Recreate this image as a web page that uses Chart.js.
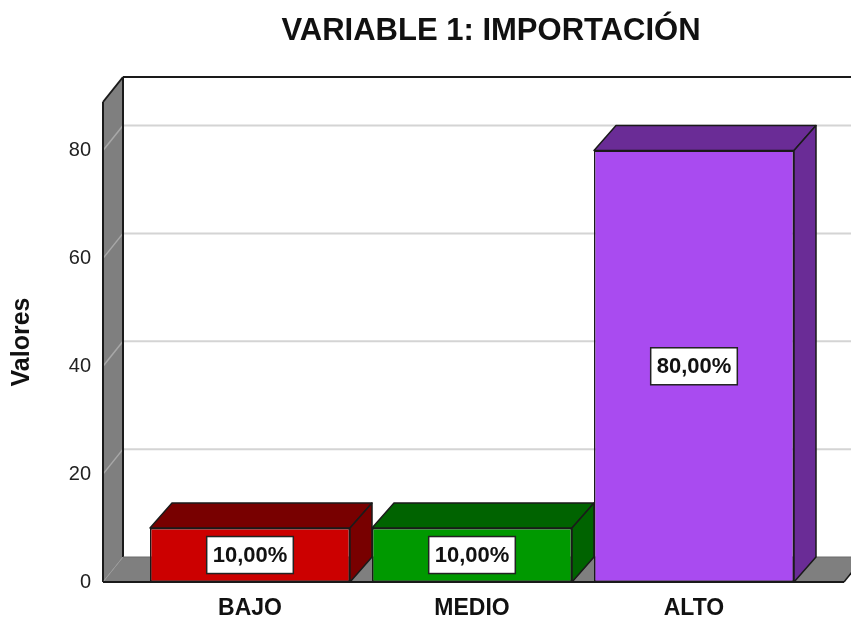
<!DOCTYPE html>
<html>
<head>
<meta charset="utf-8">
<script src="https://cdn.jsdelivr.net/npm/chart.js@4/dist/chart.umd.min.js"></script>
<style>
  html, body { margin: 0; padding: 0; background: #ffffff; }
  #wrap { width: 851px; height: 622px; }
</style>
</head>
<body>
<div id="wrap"><canvas id="chart" width="851" height="622"></canvas></div>
<script>
// Chart content
const chartTitle = 'VARIABLE 1: IMPORTACIÓN';
const axisTitle = 'Valores';
const categories = ['BAJO', 'MEDIO', 'ALTO'];
const values = [10, 10, 80];
const yTicks = [0, 20, 40, 60, 80];
const yMax = 89;

// Face colours for each bar
const frontColors = ['#cc0000', '#009900', '#a94bf0'];
const shadeColors = ['#780000', '#006300', '#6a2c96'];

const FONT = '"Liberation Sans", Arial, Helvetica, sans-serif';

// Depth of the 3D box and the bars
const WALL_DX = 20, WALL_DY = -25;
const BAR_DX = 22, BAR_DY = -25;
const FRONT_LEFT_EXTRA = 36;   // side wall sits left of the category band
const FRONT_RIGHT_EXTRA = 39;  // floor runs past the last category

function poly(ctx, pts, fill, stroke, lw) {
  ctx.beginPath();
  ctx.moveTo(pts[0][0], pts[0][1]);
  for (let i = 1; i < pts.length; i++) ctx.lineTo(pts[i][0], pts[i][1]);
  ctx.closePath();
  if (fill) { ctx.fillStyle = fill; ctx.fill(); }
  if (stroke) { ctx.strokeStyle = stroke; ctx.lineWidth = lw || 1.5; ctx.lineJoin = 'round'; ctx.stroke(); }
}

function line(ctx, x0, y0, x1, y1, color, lw) {
  ctx.beginPath();
  ctx.moveTo(x0, y0);
  ctx.lineTo(x1, y1);
  ctx.strokeStyle = color;
  ctx.lineWidth = lw;
  ctx.stroke();
}

const box3d = {
  id: 'box3d',
  beforeDatasetsDraw(chart) {
    const ctx = chart.ctx;
    const y = chart.scales.y;
    const area = chart.chartArea;
    const fl = area.left - FRONT_LEFT_EXTRA;
    const fr = area.right + FRONT_RIGHT_EXTRA;
    const yTop = y.getPixelForValue(yMax);
    const yBase = y.getPixelForValue(0);
    const bl = fl + WALL_DX;
    const br = fr + WALL_DX;
    ctx.save();

    // side wall
    poly(ctx, [[fl, yBase], [fl, yTop], [bl, yTop + WALL_DY], [bl, yBase + WALL_DY]], '#7f7f7f', null);
    // floor
    poly(ctx, [[fl, yBase], [bl, yBase + WALL_DY], [br, yBase + WALL_DY], [fr, yBase]], '#7f7f7f', null);

    // grid lines on the back wall and across the side wall
    yTicks.forEach(v => {
      if (v === 0) return;
      const py = y.getPixelForValue(v);
      line(ctx, bl, py + WALL_DY, br + 40, py + WALL_DY, '#d4d4d4', 2);
      line(ctx, fl, py, bl, py + WALL_DY, '#a8a8a8', 1.5);
    });

    // box outlines
    const edge = '#1a1a1a';
    line(ctx, bl, yTop + WALL_DY, br + 40, yTop + WALL_DY, edge, 2);
    line(ctx, bl, yTop + WALL_DY, bl, yBase + WALL_DY, edge, 2);
    line(ctx, fl, yTop, bl, yTop + WALL_DY, edge, 2);
    line(ctx, fl, yTop, fl, yBase, edge, 2);
    line(ctx, bl, yBase + WALL_DY, fl, yBase, '#9a9a9a', 1);
    line(ctx, fl, yBase, fr, yBase, edge, 2);
    line(ctx, fr, yBase, br, yBase + WALL_DY, edge, 1.5);
    line(ctx, bl, yBase + WALL_DY, br, yBase + WALL_DY, '#6a6a6a', 1);

    // top and side faces of each bar
    const meta = chart.getDatasetMeta(0);
    meta.data.forEach((bar, i) => {
      const p = bar.getProps(['x', 'y', 'base', 'width'], true);
      const x0 = p.x - p.width / 2, x1 = p.x + p.width / 2;
      const yt = p.y, yb = p.base;
      poly(ctx, [[x0, yt], [x0 + BAR_DX, yt + BAR_DY], [x1 + BAR_DX, yt + BAR_DY], [x1, yt]], shadeColors[i], edge, 1.5);
      poly(ctx, [[x1, yt], [x1 + BAR_DX, yt + BAR_DY], [x1 + BAR_DX, yb + BAR_DY], [x1, yb]], shadeColors[i], edge, 1.5);
    });
    ctx.restore();
  },
  afterDatasetsDraw(chart) {
    const ctx = chart.ctx;
    const meta = chart.getDatasetMeta(0);
    ctx.save();
    ctx.font = 'bold 22px ' + FONT;
    ctx.textAlign = 'center';
    ctx.textBaseline = 'middle';
    meta.data.forEach((bar, i) => {
      const p = bar.getProps(['x', 'y', 'base'], true);
      const text = values[i].toFixed(2).replace('.', ',') + '%';
      const cy = (p.y + p.base) / 2;
      const w = ctx.measureText(text).width + 12;
      const h = 37;
      ctx.fillStyle = '#ffffff';
      ctx.fillRect(p.x - w / 2, cy - h / 2, w, h);
      ctx.strokeStyle = '#222222';
      ctx.lineWidth = 1.5;
      ctx.strokeRect(p.x - w / 2, cy - h / 2, w, h);
      ctx.fillStyle = '#111111';
      ctx.fillText(text, p.x, cy + 1);
    });
    ctx.restore();
  },
  afterDraw(chart) {
    const ctx = chart.ctx;
    ctx.save();
    ctx.font = 'bold 31px ' + FONT;
    ctx.fillStyle = '#111111';
    ctx.textAlign = 'center';
    ctx.textBaseline = 'middle';
    ctx.fillText(chartTitle, 491, 31);
    ctx.restore();
  }
};

new Chart(document.getElementById('chart'), {
  type: 'bar',
  data: {
    labels: categories,
    datasets: [{
      data: values,
      backgroundColor: frontColors,
      borderColor: '#1a1a1a',
      borderWidth: 1.5,
      borderSkipped: false,
      categoryPercentage: 1,
      barPercentage: 200 / 222
    }]
  },
  plugins: [box3d],
  options: {
    responsive: false,
    animation: false,
    layout: { autoPadding: false, padding: { top: 102, right: 46, left: 0, bottom: 0 } },
    plugins: {
      legend: { display: false },
      title: { display: false },
      tooltip: { enabled: false }
    },
    scales: {
      x: {
        grid: { display: false, drawTicks: false },
        border: { display: false },
        ticks: {
          padding: 13,
          color: '#111111',
          font: { family: FONT, size: 23, weight: 'bold' }
        },
        afterFit(s) { s.height = 40; }
      },
      y: {
        min: 0,
        max: yMax,
        grid: { display: false, drawTicks: false },
        border: { display: false },
        ticks: {
          stepSize: 20,
          padding: 48,
          color: '#222222',
          font: { family: FONT, size: 20 }
        },
        afterBuildTicks(s) { s.ticks = yTicks.map(v => ({ value: v })); },
        title: {
          display: true,
          text: axisTitle,
          color: '#111111',
          padding: { top: 7, bottom: 0 },
          font: { family: FONT, size: 25, weight: 'bold' }
        },
        afterFit(s) {
          s.width = 139;
          s.paddingTop = 0;
          s.paddingBottom = 0;
        }
      }
    }
  }
});
</script>
</body>
</html>
